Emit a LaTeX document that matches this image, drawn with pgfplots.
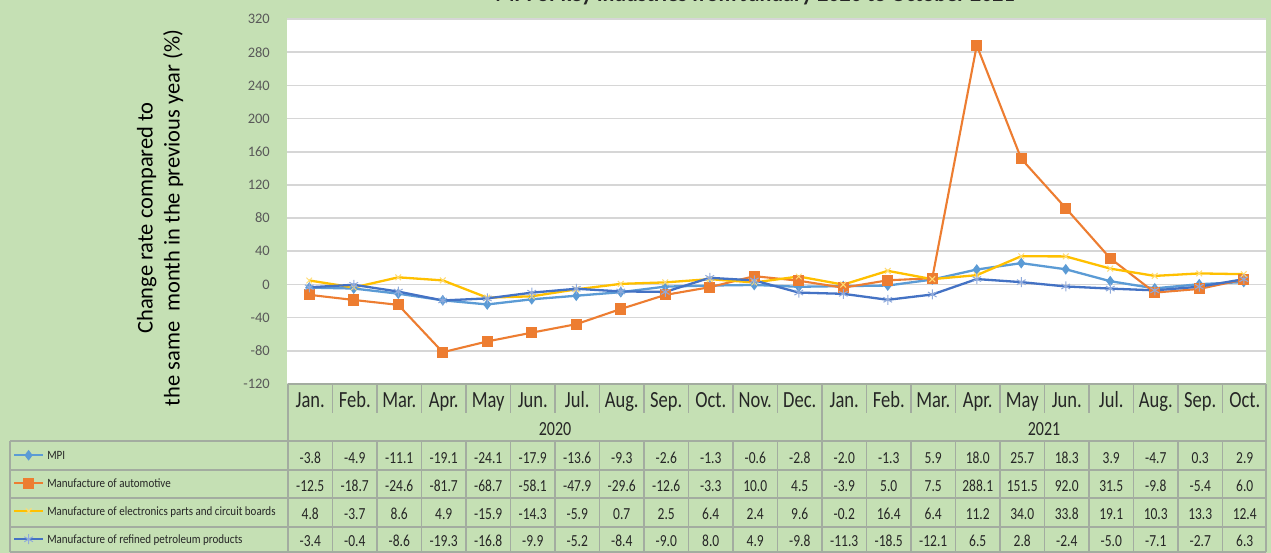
\documentclass[border=0pt]{standalone}
\usepackage{graphicx}
\usepackage{pgfplots}
\pgfplotsset{compat=1.18}
\usepackage{fontspec}
\setmainfont{Carlito}
\definecolor{bg}{HTML}{C5E0B4}
\definecolor{mpiblue}{HTML}{5B9BD5}
\definecolor{autoorange}{HTML}{ED7D31}
\definecolor{elecyellow}{HTML}{FFC000}
\definecolor{petroblue}{HTML}{4472C4}
\definecolor{petromark}{HTML}{8FAADC}
\definecolor{tgrid}{HTML}{A3ACA0}
\definecolor{txt}{HTML}{262626}
\definecolor{ticktxt}{HTML}{595959}
\definecolor{gridc}{HTML}{D6D6D6}
\newcommand{\fs}[1]{\fontsize{#1}{#1}\selectfont}
\newcommand{\vs}[1]{\scalebox{1}[1.25]{#1}}
\newcommand{\lt}[1]{\raisebox{-1.5pt}{\scalebox{1}[1.15]{#1}}}

\begin{document}
\begin{tikzpicture}
\useasboundingbox (0pt,0pt) rectangle (1271pt,-553pt);
\clip (0pt,0pt) rectangle (1271pt,-553pt);
\begin{scope}[x=1pt,y=-1pt]
\fill[bg] (0,0) rectangle (1271,553);
\fill[white] (287,19) rectangle (1266,384);
\node[anchor=base, font=\fs{22}\bfseries, text=txt] at (755,2) {MPI of key industries from January 2020 to October 2021};
\node[rotate=90, align=center, font=\fontsize{22.5}{27}\selectfont, text=black, inner sep=0pt] at (160,218) {Change rate compared to\\the same\ \ month in the previous year (\%)};
\end{scope}

\begin{axis}[
  at={(287pt,-384pt)}, anchor=south west,
  width=979pt, height=365pt, scale only axis,
  xmin=-0.5, xmax=21.5, ymin=-120, ymax=320,
  ytick={-120,-80,...,320}, xtick=\empty,
  ymajorgrids, grid style={draw=gridc, line width=1.6pt},
  axis line style={draw=none},
  major tick length=0pt,
  /pgf/number format/assume math mode=true,
  yticklabel style={font=\fs{14.5}, text=ticktxt, inner sep=0pt, xshift=-17pt},
  clip=false,
  legend cell align=left,
  legend image code/.code={\draw[mark repeat=2,mark phase=2] plot coordinates {(0pt,0pt)(14.5pt,0pt)(29pt,0pt)};},
  legend style={at={(-0.2799,-0.1808)}, anchor=north west, draw=none, fill=none,
    inner sep=0pt, outer sep=0pt, font=\fs{11}, text=txt, row sep=17.5pt, column sep=3pt,
    nodes={inner sep=0pt, text height=8pt, text depth=2.5pt}},
]
\addplot[mpiblue, line width=2.3pt, mark=diamond*, mark size=3.5pt] coordinates {
(0,-3.8)(1,-4.9)(2,-11.1)(3,-19.1)(4,-24.1)(5,-17.9)(6,-13.6)(7,-9.3)(8,-2.6)(9,-1.3)(10,-0.6)(11,-2.8)
(12,-2.0)(13,-1.3)(14,5.9)(15,18.0)(16,25.7)(17,18.3)(18,3.9)(19,-4.7)(20,0.3)(21,2.9)};
\addplot[autoorange, line width=2.1pt, mark=square*, mark size=4.5pt] coordinates {
(0,-12.5)(1,-18.7)(2,-24.6)(3,-81.7)(4,-68.7)(5,-58.1)(6,-47.9)(7,-29.6)(8,-12.6)(9,-3.3)(10,10.0)(11,4.5)
(12,-3.9)(13,5.0)(14,7.5)(15,288.1)(16,151.5)(17,92.0)(18,31.5)(19,-9.8)(20,-5.4)(21,6.0)};
\addplot[elecyellow, line width=2.3pt, mark=x, mark size=4pt, mark options={draw=elecyellow!55!white, line width=1pt}] coordinates {
(0,4.8)(1,-3.7)(2,8.6)(3,4.9)(4,-15.9)(5,-14.3)(6,-5.9)(7,0.7)(8,2.5)(9,6.4)(10,2.4)(11,9.6)
(12,-0.2)(13,16.4)(14,6.4)(15,11.2)(16,34.0)(17,33.8)(18,19.1)(19,10.3)(20,13.3)(21,12.4)};
\addplot[petroblue, line width=2.3pt, mark=asterisk, mark size=5pt, mark options={draw=petromark, line width=1pt}] coordinates {
(0,-3.4)(1,-0.4)(2,-8.6)(3,-19.3)(4,-16.8)(5,-9.9)(6,-5.2)(7,-8.4)(8,-9.0)(9,8.0)(10,4.9)(11,-9.8)
(12,-11.3)(13,-18.5)(14,-12.1)(15,6.5)(16,2.8)(17,-2.4)(18,-5.0)(19,-7.1)(20,-2.7)(21,6.3)};
\legend{\lt{MPI}, \lt{Manufacture of automotive}, \lt{Manufacture of electronics parts and circuit boards}, \lt{Manufacture of refined petroleum products}}
\end{axis}

\begin{scope}[x=1pt,y=-1pt]
\draw[tgrid, line width=1.2pt] (288,384) -- (1266,384);
\foreach \yy in {441,470,498,527,552} \draw[tgrid, line width=1.2pt] (10,\yy) -- (1266,\yy);
\draw[tgrid, line width=1.2pt] (10,441) -- (10,552);
\foreach \xx in {288,822,1266} \draw[tgrid, line width=1.2pt] (\xx,384) -- (\xx,552);
\foreach \k in {1,...,11,13,14,...,21} {
  \draw[tgrid, line width=1.2pt] ({288+44.5*\k},384) -- ({288+44.5*\k},413);
  \draw[tgrid, line width=1.2pt] ({288+44.5*\k},441) -- ({288+44.5*\k},552);
}
\foreach \m [count=\i from 0] in {Jan.,Feb.,Mar.,Apr.,May,Jun.,Jul.,Aug.,Sep.,Oct.,Nov.,Dec.,Jan.,Feb.,Mar.,Apr.,May,Jun.,Jul.,Aug.,Sep.,Oct.}
  \node[anchor=base, font=\fs{18.5}, text=txt, inner sep=0pt] at ({310.25+44.5*\i},407) {\vs{\m}};
\node[anchor=base, font=\fs{16}, text=txt, inner sep=0pt] at (555,435) {\vs{2020}};
\node[anchor=base, font=\fs{16}, text=txt, inner sep=0pt] at (1044,435) {\vs{2021}};
\foreach \v [count=\i from 0] in {-3.8,-4.9,-11.1,-19.1,-24.1,-17.9,-13.6,-9.3,-2.6,-1.3,-0.6,-2.8,-2.0,-1.3,5.9,18.0,25.7,18.3,3.9,-4.7,0.3,2.9}
  \node[anchor=base, font=\fs{13.5}, text=txt, inner sep=0pt] at ({310.25+44.5*\i},463.5) {\vs{\v}};
\foreach \v [count=\i from 0] in {-12.5,-18.7,-24.6,-81.7,-68.7,-58.1,-47.9,-29.6,-12.6,-3.3,10.0,4.5,-3.9,5.0,7.5,288.1,151.5,92.0,31.5,-9.8,-5.4,6.0}
  \node[anchor=base, font=\fs{13.5}, text=txt, inner sep=0pt] at ({310.25+44.5*\i},491.5) {\vs{\v}};
\foreach \v [count=\i from 0] in {4.8,-3.7,8.6,4.9,-15.9,-14.3,-5.9,0.7,2.5,6.4,2.4,9.6,-0.2,16.4,6.4,11.2,34.0,33.8,19.1,10.3,13.3,12.4}
  \node[anchor=base, font=\fs{13.5}, text=txt, inner sep=0pt] at ({310.25+44.5*\i},519.5) {\vs{\v}};
\foreach \v [count=\i from 0] in {-3.4,-0.4,-8.6,-19.3,-16.8,-9.9,-5.2,-8.4,-9.0,8.0,4.9,-9.8,-11.3,-18.5,-12.1,6.5,2.8,-2.4,-5.0,-7.1,-2.7,6.3}
  \node[anchor=base, font=\fs{13.5}, text=txt, inner sep=0pt] at ({310.25+44.5*\i},546) {\vs{\v}};
\end{scope}
\end{tikzpicture}
\end{document}
